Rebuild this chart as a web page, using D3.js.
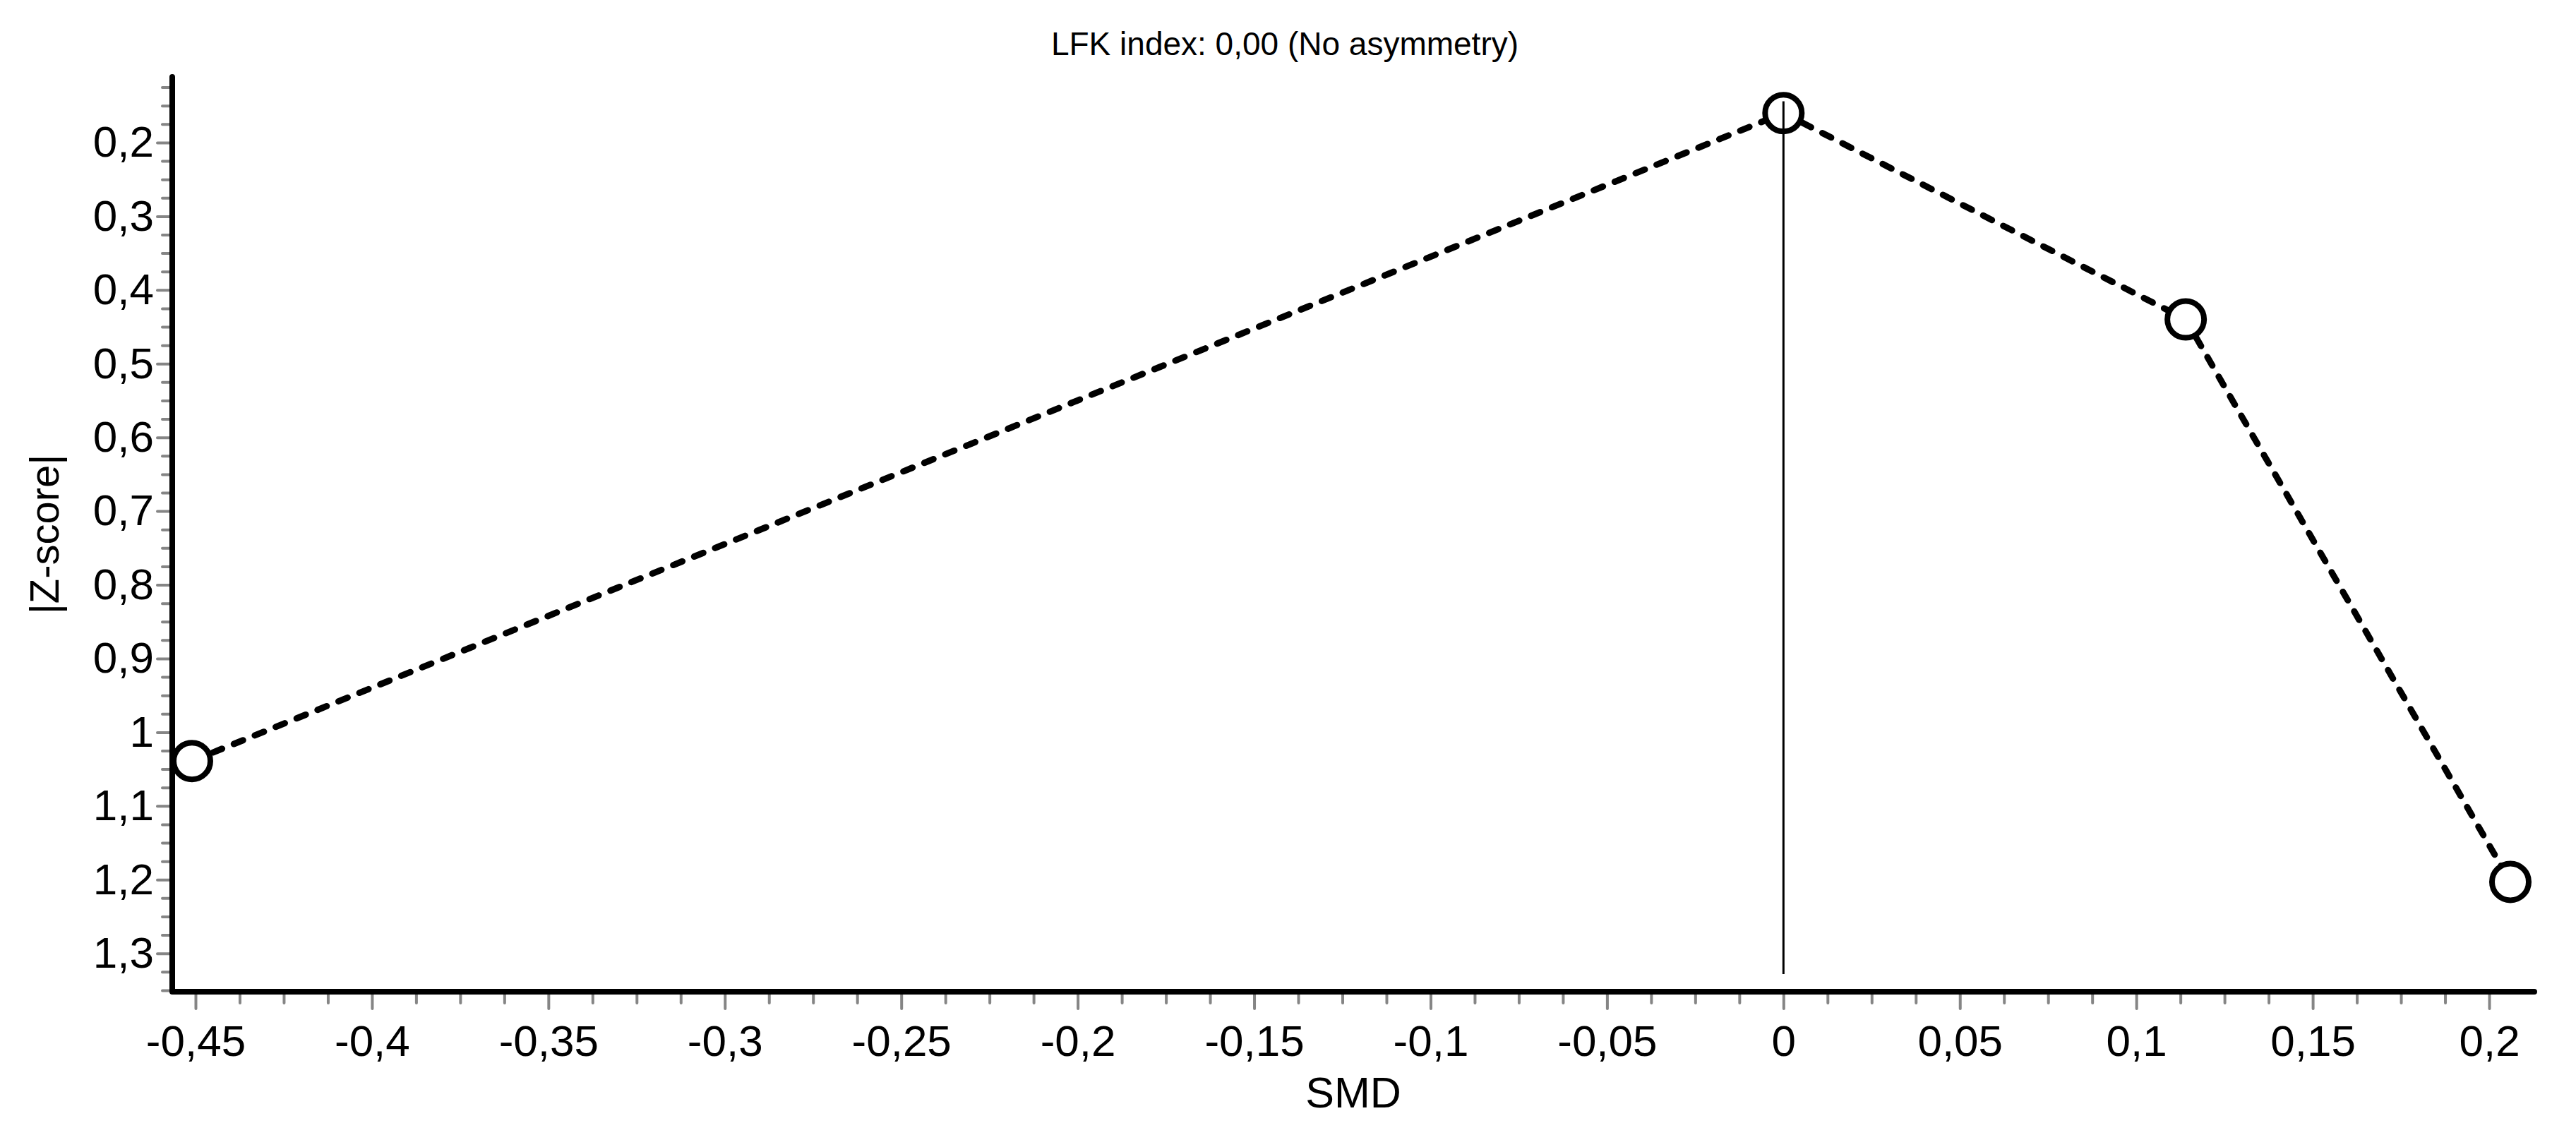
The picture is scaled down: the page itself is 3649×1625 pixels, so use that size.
<!DOCTYPE html>
<html>
<head>
<meta charset="utf-8">
<script src="https://cdn.jsdelivr.net/npm/d3@7"></script>
<style>
  body { margin: 0; background: #fff; }
  text { font-family: "Liberation Sans", Arial, sans-serif; fill: #000; }
</style>
</head>
<body>
<script>
// Doi plot data
var smd = [-0.451, 0, 0.114, 0.206];
var zScore = [1.039, 0.160, 0.440, 1.203];

// tick values
var xMajor = [-0.45, -0.4, -0.35, -0.3, -0.25, -0.2, -0.15, -0.1, -0.05, 0, 0.05, 0.1, 0.15, 0.2];
var yMajor = [0.2, 0.3, 0.4, 0.5, 0.6, 0.7, 0.8, 0.9, 1, 1.1, 1.2, 1.3];

// vertical reference line at SMD = 0
var refX = 0;
var refY = [0.144, 1.328];

var title = "LFK index: 0,00 (No asymmetry)";
var xTitle = "SMD";
var yTitle = "|Z-score|";

var width = 3649, height = 1625;
var plot = { left: 244, right: 3590, top: 109, bottom: 1405 };

var svg = d3.select("body").append("svg")
    .attr("width", width)
    .attr("height", height);

var x = d3.scaleLinear().domain([-0.4566, 0.2128]).range([plot.left, plot.right]);
var y = d3.scaleLinear().domain([0.111, 1.352]).range([plot.top, plot.bottom]);

var loc = d3.formatLocale({ decimal: ",", thousands: ".", grouping: [3], currency: ["", ""], minus: "-" });
var fmt = loc.format(".2~f");

// minor ticks
var xMinor = d3.range(-0.45, 0.2125, 0.0125).filter(function(v) {
    return xMajor.every(function(m) { return Math.abs(m - v) > 1e-6; });
});
var yMinor = d3.range(0.125, 1.3501, 0.025).filter(function(v) {
    return yMajor.every(function(m) { return Math.abs(m - v) > 1e-6; });
});

var tickColour = "#858585";

// x axis ticks
var gx = svg.append("g").attr("transform", "translate(0," + (plot.bottom + 4) + ")");
gx.call(d3.axisBottom(x).tickValues(xMinor).tickSize(12).tickFormat(""));
gx.append("g").call(d3.axisBottom(x).tickValues(xMajor).tickSize(20).tickPadding(23).tickFormat(fmt));
gx.selectAll(".domain").remove();
gx.selectAll(".tick line").attr("stroke", tickColour).attr("stroke-width", 4).attr("stroke-linecap", "round");
gx.selectAll(".tick text").attr("font-size", 62).attr("font-family", "Liberation Sans, Arial, sans-serif").attr("fill", "#000");

// y axis ticks
var gy = svg.append("g").attr("transform", "translate(" + (plot.left - 4) + ",0)");
gy.call(d3.axisLeft(y).tickValues(yMinor).tickSize(10).tickFormat(""));
gy.append("g").call(d3.axisLeft(y).tickValues(yMajor).tickSize(17).tickPadding(5).tickFormat(fmt));
gy.selectAll(".domain").remove();
gy.selectAll(".tick line").attr("stroke", tickColour).attr("stroke-width", 4).attr("stroke-linecap", "round");
gy.selectAll(".tick text").attr("font-size", 62).attr("font-family", "Liberation Sans, Arial, sans-serif").attr("fill", "#000");

// axis lines
svg.append("path")
    .attr("d", "M" + plot.left + "," + plot.top + "V" + plot.bottom + "H" + plot.right)
    .attr("fill", "none")
    .attr("stroke", "#000")
    .attr("stroke-width", 8)
    .attr("stroke-linecap", "round")
    .attr("stroke-linejoin", "round");

// dashed line joining the points
var pts = smd.map(function(d, i) { return [d, zScore[i]]; });
svg.append("path")
    .datum(pts)
    .attr("d", d3.line().x(function(d) { return x(d[0]); }).y(function(d) { return y(d[1]); }))
    .attr("fill", "none")
    .attr("stroke", "#000")
    .attr("stroke-width", 9)
    .attr("stroke-linecap", "round")
    .attr("stroke-dasharray", "14,18");

// points
svg.selectAll(".point").data(pts).enter()
    .append("circle").attr("class", "point")
    .attr("cx", function(d) { return x(d[0]); })
    .attr("cy", function(d) { return y(d[1]); })
    .attr("r", 26)
    .attr("fill", "#fff")
    .attr("stroke", "#000")
    .attr("stroke-width", 8);

// reference line
svg.append("line")
    .attr("x1", x(refX)).attr("x2", x(refX))
    .attr("y1", y(refY[0])).attr("y2", y(refY[1]))
    .attr("stroke", "#000")
    .attr("stroke-width", 3);

// titles
svg.append("text")
    .attr("x", 1820).attr("y", 78)
    .attr("text-anchor", "middle")
    .attr("font-size", 46)
    .text(title);

svg.append("text")
    .attr("x", (plot.left + plot.right) / 2).attr("y", 1569)
    .attr("text-anchor", "middle")
    .attr("font-size", 61)
    .text(xTitle);

svg.append("text")
    .attr("transform", "translate(83," + ((plot.top + plot.bottom) / 2) + ")rotate(-90)")
    .attr("text-anchor", "middle")
    .attr("font-size", 58)
    .text(yTitle);
</script>
</body>
</html>
